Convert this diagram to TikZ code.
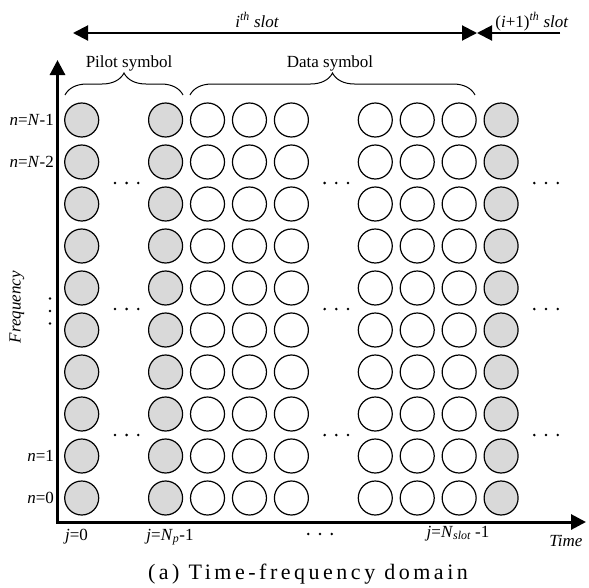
\documentclass[tikz,border=0pt]{standalone}
\usepackage{fontspec}
\setmainfont{Liberation Serif}
\newfontfamily\capfont[LetterSpace=16]{Liberation Serif}
\usetikzlibrary{positioning, arrows.meta, decorations.pathreplacing}

\begin{document}
\begin{tikzpicture}[x=1pt, y=-1pt,
    every node/.style={font=\fontsize{17}{20}\selectfont, inner sep=0pt},
    symbol/.style={draw, circle, line width=1.2pt, minimum size=34pt, inner sep=0pt},
    pilot/.style={symbol, fill=gray!30},
    datasym/.style={symbol, fill=white},
    axis/.style={{Triangle[length=15pt, width=15pt]}-{Triangle[length=15pt, width=15pt]}, line width=3pt},
    slot/.style={line width=2pt},
    brace/.style={decorate, decoration={brace, amplitude=22pt}, line width=1pt},
    lbl/.style={anchor=base}
  ]
  \useasboundingbox (0,0) rectangle (589,587);

  % symbol grid
  \foreach \r in {0,...,9} {
    \foreach \c/\s in {0/pilot, 2/pilot, 3/datasym, 4/datasym, 5/datasym, 7/datasym, 8/datasym, 9/datasym, 10/pilot}
      \node[\s] (s-\r-\c) at ({81.7+41.94*\c}, {120+42*\r}) {};
  }

  % dots between columns
  \foreach \k in {1, 6, 11}
    \foreach \r in {1.5, 4.5, 7.5}
      \foreach \d in {-11.7, 0, 11.7}
        \fill ({84.7+41.94*\k+\d}, {120+42*\r}) circle (1.4pt);
  \foreach \d in {-12.5, 0, 12.5}
    \fill (50, 311+\d) circle (1.4pt);
  \foreach \d in {-11.7, 0, 11.7}
    \fill (320+\d, 534) circle (1.4pt);

  % axes
  \coordinate (origin) at (57.5, 522);
  \coordinate (ytip) at (57.5, 60);
  \coordinate (xtip) at (586, 522);
  \draw[axis] (ytip) -- (origin) -- (xtip);

  % slot arrows
  \coordinate (slotL) at (73, 33);
  \coordinate (slotM) at (477, 33);
  \coordinate (slotR) at (560, 33);
  \draw[slot, {Triangle[length=15pt, width=15pt]}-{Triangle[length=15pt, width=15pt]}] (slotL) -- (slotM);
  \draw[slot, -{Triangle[length=15pt, width=15pt]}] (slotR) -- (slotM);
  \node[lbl] (slot1) at (257, 27) {\itshape i\textsuperscript{th} slot};
  \node[lbl] (slot2) at (532, 27) {(\textit{i}+1)\textsuperscript{\itshape th} \textit{slot}};

  % braces
  \coordinate (pbL) at (65, 95);
  \coordinate (pbR) at (183, 95);
  \coordinate (dbL) at (190, 95);
  \coordinate (dbR) at (475, 95);
  \draw[brace] (pbL) -- (pbR);
  \draw[brace] (dbL) -- (dbR);
  \node[lbl] (pilottxt) at (129, 67) {Pilot symbol};
  \node[lbl] (datatxt) at (330, 67) {Data symbol};

  % row labels
  \node[left=10pt of s-0-0] (n0) {\textit{n}=\textit{N}-1};
  \node[left=10pt of s-1-0] (n1) {\textit{n}=\textit{N}-2};
  \node[left=10pt of s-8-0] (n8) {\textit{n}=1};
  \node[left=10pt of s-9-0] (n9) {\textit{n}=0};
  \node[rotate=90] (freq) at (17, 307) {\itshape Frequency};

  % column labels
  \node[lbl] (j0) at (76.5, 540) {\textit{j}=0};
  \node[lbl] (jp) at (170, 540) {\textit{j}=\textit{N}\textsubscript{\itshape p}-1};
  \node[lbl] (js) at (458, 537) {\textit{j}=\textit{N}\textsubscript{\itshape slot} -1};
  \node[lbl] (time) at (566, 546) {\itshape Time};

  \node[lbl, font=\fontsize{22}{26}\capfont] (caption) at (308, 579) {(a) Time-frequency domain};
\end{tikzpicture}
\end{document}
